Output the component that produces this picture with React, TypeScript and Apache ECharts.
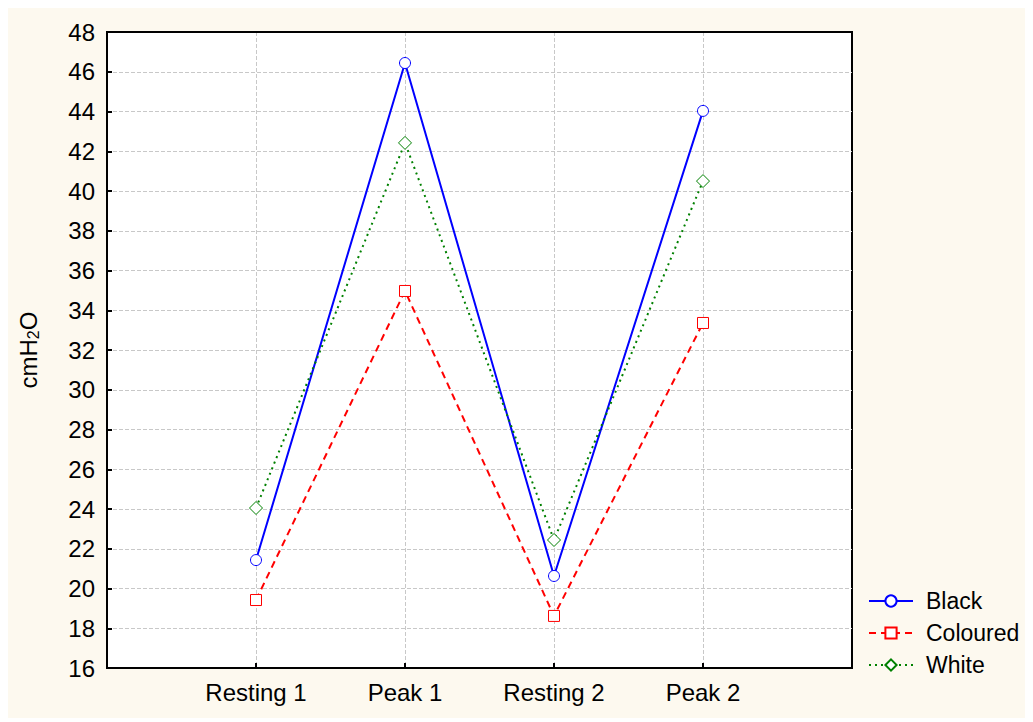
import React, { useEffect, useRef } from "react";
import * as echarts from "echarts";

const categories = ["Resting 1", "Peak 1", "Resting 2", "Peak 2"];
const black = [21.43, 46.44, 20.63, 44.03];
const coloured = [19.42, 34.97, 18.62, 33.36];
const white = [24.05, 42.42, 22.44, 40.5];
const yTicks = { min: 16, max: 48, interval: 2 };

const FONT = "'Liberation Sans', Arial, sans-serif";

function pts(vals: number[]) {
  return vals.map((v, i) => [i + 1, v]);
}

export default function App() {
  const ref = useRef<HTMLDivElement>(null);
  useEffect(() => {
    if (!ref.current) return;
    const chart = echarts.init(ref.current, null, { renderer: "svg" });
    const axisLine = { show: true, lineStyle: { color: "#000", width: 2 } };
    const split = {
      show: true,
      showMinLine: false,
      showMaxLine: false,
      lineStyle: { color: "#c8c8c8", type: "dashed", width: 1 },
    };
    chart.setOption({
      animation: false,
      backgroundColor: "#fdf9ef",
      textStyle: { fontFamily: FONT },
      grid: {
        left: 103,
        top: 28,
        right: 177,
        bottom: 50,
        show: true,
        backgroundColor: "#ffffff",
        borderColor: "#000",
        borderWidth: 2,
      },
      xAxis: [
        {
          type: "value",
          min: 0,
          max: 5,
          interval: 1,
          axisLine,
          axisTick: { show: true, inside: true, length: 5, lineStyle: { color: "#000", width: 2 } },
          axisLabel: {
            color: "#000",
            fontSize: 24,
            fontFamily: FONT,
            margin: 12,
            showMinLabel: false,
            showMaxLabel: false,
            formatter: (v: number) => (v >= 1 && v <= 4 ? categories[v - 1] : ""),
          },
          splitLine: split,
        },
        {
          type: "value",
          position: "top",
          min: 0,
          max: 5,
          interval: 1,
          axisLine,
          axisTick: { show: false },
          axisLabel: { show: false },
          splitLine: { show: false },
        },
      ],
      yAxis: [
        {
          type: "value",
          min: yTicks.min,
          max: yTicks.max,
          interval: yTicks.interval,
          name: "{a|cmH}{s|2}{a|O}",
          nameLocation: "middle",
          nameGap: 66,
          nameTextStyle: {
            rich: {
              a: { fontSize: 24, color: "#000", fontFamily: FONT },
              s: { fontSize: 16, color: "#000", fontFamily: FONT, padding: [10, 0, 0, 0] },
            },
          },
          axisLine,
          axisTick: { show: true, inside: true, length: 5, lineStyle: { color: "#000", width: 2 } },
          axisLabel: { color: "#000", fontSize: 24, fontFamily: FONT, margin: 12 },
          splitLine: split,
        },
        {
          type: "value",
          position: "right",
          min: yTicks.min,
          max: yTicks.max,
          interval: yTicks.interval,
          axisLine,
          axisTick: { show: false },
          axisLabel: { show: false },
          splitLine: { show: false },
        },
      ],
      legend: {
        orient: "vertical",
        left: 859,
        top: 580,
        itemWidth: 44,
        itemHeight: 14,
        itemGap: 8,
        textStyle: { fontSize: 23, lineHeight: 24, color: "#000", fontFamily: FONT, padding: [0, 0, 0, 8] },
        data: ["Black", "Coloured", "White"],
      },
      series: [
        {
          name: "Black",
          type: "line",
          data: pts(black),
          symbol: "circle",
          symbolSize: 11,
          lineStyle: { color: "#0000ff", width: 2, type: "solid" },
          itemStyle: { color: "#ffffff", borderColor: "#0000ff", borderWidth: 1 },
        },
        {
          name: "Coloured",
          type: "line",
          data: pts(coloured),
          symbol: "rect",
          symbolSize: 11,
          lineStyle: { color: "#ff0000", width: 2, type: [7, 5] },
          itemStyle: { color: "#ffffff", borderColor: "#ff0000", borderWidth: 1 },
        },
        {
          name: "White",
          type: "line",
          data: pts(white),
          symbol: "diamond",
          symbolSize: 13,
          lineStyle: { color: "#008000", width: 2, type: [2, 4] },
          itemStyle: { color: "#ffffff", borderColor: "#008000", borderWidth: 1 },
        },
      ],
    });
    return () => chart.dispose();
  }, []);
  return <div ref={ref} style={{ width: 1025, height: 714, margin: "-4px 0 0 -4px" }} />;
}
